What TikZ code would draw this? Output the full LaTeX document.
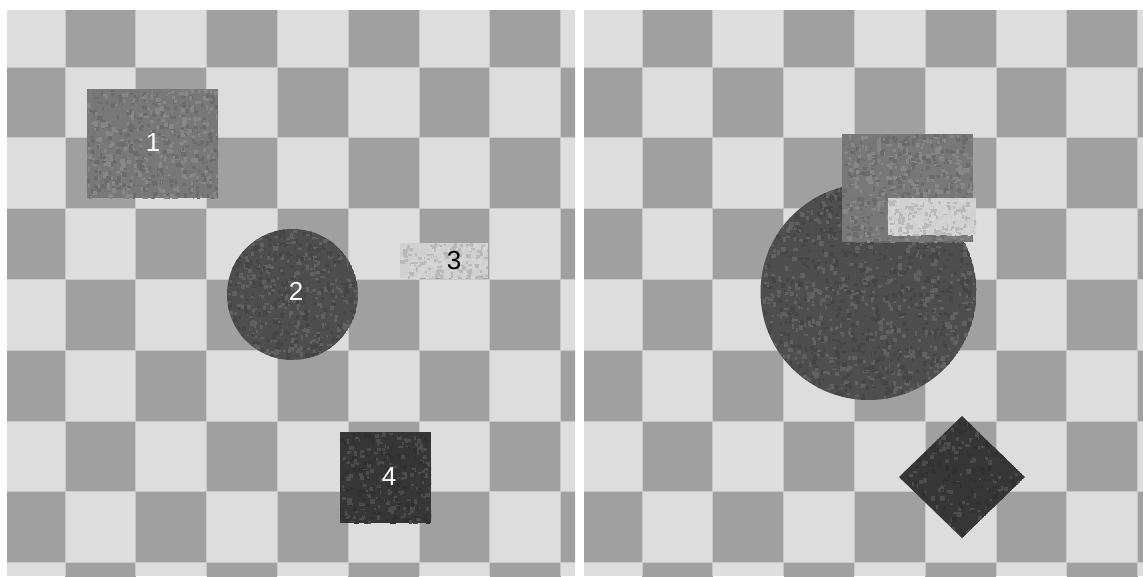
\documentclass[tikz,border=0pt]{standalone}
\usepackage{fontspec}
\setmainfont{Liberation Sans}
\definecolor{lightsq}{HTML}{DDDDDD}
\definecolor{darksq}{HTML}{A0A0A0}
\definecolor{seamc}{HTML}{C9C9C9}
\definecolor{shapeA}{HTML}{787878}
\definecolor{shapeB}{HTML}{4E4E4E}
\definecolor{shapeC}{HTML}{D0D0D0}
\definecolor{shapeD}{HTML}{363636}
\newcommand\mySpeckle[6]{%
  \foreach \k in {1,...,#5}{%
    \pgfmathsetmacro\sx{#1+#3*rnd}%
    \pgfmathsetmacro\sy{#2+#4*rnd}%
    \pgfmathsetmacro\sw{1.5+3.5*rnd}%
    \pgfmathsetmacro\sh{1.5+3.5*rnd}%
    \fill[#6!89!white] (\sx,\sy) rectangle +(\sw,\sh);
    \pgfmathsetmacro\sx{#1+#3*rnd}%
    \pgfmathsetmacro\sy{#2+#4*rnd}%
    \fill[#6!89!black] (\sx,\sy) rectangle +(\sh,\sw);
  }}
\begin{document}
\begin{tikzpicture}[x=1pt,y=-1pt,
  lbl/.style={font=\fontsize{26}{26}\selectfont, inner sep=0pt},
  seam/.style={draw=seamc, line width=0.8pt}]
\pgfmathsetseed{7}
\useasboundingbox (0,0) rectangle (1143,576);
\fill[white] (0,0) rectangle (1143,576);
% ---------- left board ----------
\begin{scope}
  \clip (7,10) rectangle (575,576);
  \fill[lightsq] (7,10) rectangle (575,576);
  \foreach \i in {0,...,8}{\foreach \j in {0,...,8}{%
    \pgfmathtruncatemacro\p{mod(\i+\j,2)}%
    \ifnum\p=1 \fill[darksq] ({-5.8+70.8*\i},{-3.8+70.8*\j}) rectangle +(70.8,70.8);\fi
  }}
  \foreach \i in {1,...,8}{\draw[seam] ({-5.8+70.8*\i},0) -- ({-5.8+70.8*\i},576);}
  \foreach \j in {1,...,8}{\draw[seam] (0,{-3.8+70.8*\j}) -- (600,{-3.8+70.8*\j});}
\end{scope}
% ---------- right board ----------
\begin{scope}
  \clip (584,10) rectangle (1143,576);
  \fill[lightsq] (584,10) rectangle (1143,576);
  \foreach \i in {0,...,8}{\foreach \j in {0,...,8}{%
    \pgfmathtruncatemacro\p{mod(\i+\j,2)}%
    \ifnum\p=1 \fill[darksq] ({571.2+70.8*\i},{-3.8+70.8*\j}) rectangle +(70.8,70.8);\fi
  }}
  \foreach \i in {1,...,8}{\draw[seam] ({571.2+70.8*\i},0) -- ({571.2+70.8*\i},576);}
  \foreach \j in {1,...,8}{\draw[seam] (580,{-3.8+70.8*\j}) -- (1143,{-3.8+70.8*\j});}
\end{scope}
% ---------- left shapes ----------
\begin{scope}
  \clip (87,89) rectangle (218,198);
  \fill[shapeA] (87,89) rectangle (218,198);
  \mySpeckle{87}{89}{131}{109}{300}{shapeA}
\end{scope}
\begin{scope}
  \clip (292.5,294.5) circle[radius=65.5];
  \fill[shapeB] (292.5,294.5) circle[radius=65.5];
  \mySpeckle{227}{229}{131}{131}{350}{shapeB}
\end{scope}
\begin{scope}
  \clip (400,243) rectangle (488,278);
  \fill[shapeC] (400,243) rectangle (488,278);
  \mySpeckle{400}{243}{88}{35}{110}{shapeC}
\end{scope}
\begin{scope}
  \clip (340,432) rectangle (431,523);
  \fill[shapeD] (340,432) rectangle (431,523);
  \mySpeckle{340}{432}{91}{91}{160}{shapeD}
\end{scope}
\node[lbl, text=white] (l1) at (153,143) {1};
\node[lbl, text=white] (l2) at (296,291) {2};
\node[lbl, text=black] (l3) at (454,261) {3};
\node[lbl, text=white] (l4) at (389,477) {4};
% ---------- right shapes ----------
\begin{scope}
  \clip (868.5,292) circle[radius=108];
  \fill[shapeB] (868.5,292) circle[radius=108];
  \mySpeckle{760}{184}{217}{216}{700}{shapeB}
\end{scope}
\begin{scope}
  \clip (842,134) rectangle (973,242);
  \fill[shapeA] (842,134) rectangle (973,242);
  \mySpeckle{842}{134}{131}{108}{300}{shapeA}
\end{scope}
\begin{scope}
  \clip (888,198) rectangle (976,235);
  \fill[shapeC] (888,198) rectangle (976,235);
  \mySpeckle{888}{198}{88}{37}{110}{shapeC}
\end{scope}
\begin{scope}
  \clip (962,416) -- (1025,477) -- (962,538) -- (899,477) -- cycle;
  \fill[shapeD] (962,416) -- (1025,477) -- (962,538) -- (899,477) -- cycle;
  \mySpeckle{899}{416}{126}{122}{180}{shapeD}
\end{scope}
\end{tikzpicture}
\end{document}
